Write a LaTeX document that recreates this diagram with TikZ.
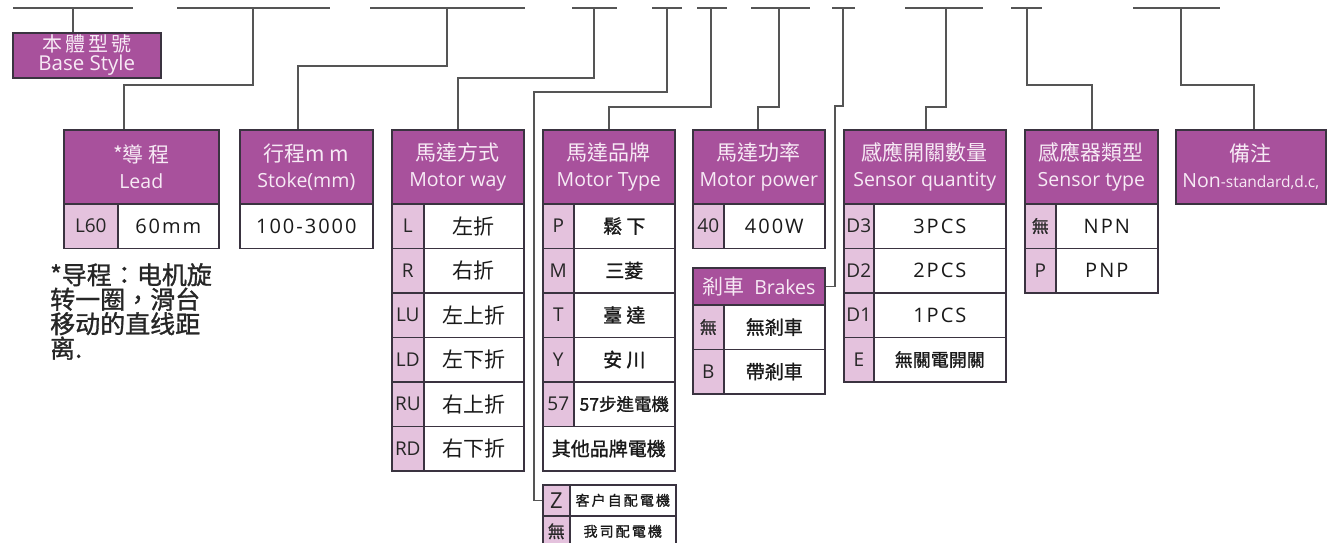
\documentclass[tikz,border=0pt]{standalone}
\usepackage{fontspec}
\setmainfont{Open Sans}
\newfontfamily\cjk{Noto Sans CJK TC}
\newfontfamily\cjkm[FakeBold=1.2]{Noto Sans CJK TC}
\newfontfamily\cjksp[LetterSpace=15,FakeBold=1.2]{Noto Sans CJK TC}
\newfontfamily\cjkbase[LetterSpace=15]{Noto Sans CJK TC}
\newfontfamily\spaced[LetterSpace=10]{Open Sans}
\definecolor{hdrfill}{HTML}{A8519C}
\definecolor{codefill}{HTML}{E4C2DD}
\definecolor{hdrtext}{HTML}{F7EAF5}
\definecolor{boxline}{HTML}{3A3340}
\definecolor{connline}{HTML}{555555}
\newcommand\hcjk[1]{{\cjk\fontsize{21}{26}\selectfont #1}}
\begin{document}
\begin{tikzpicture}[x=1pt, y=-1pt,
    hdr/.style={draw=boxline, fill=hdrfill, text=hdrtext, line width=1.6pt, anchor=north west,
      inner sep=0pt, align=center, minimum height=74pt, font=\fontsize{19.5}{26}\selectfont},
    codecell/.style={draw=boxline, fill=codefill, line width=1.6pt, anchor=north west, inner sep=0pt,
      minimum height=44.5pt, text=black!85, font=\fontsize{19}{22}\selectfont},
    valcell/.style={draw=boxline, fill=white, line width=1.6pt, anchor=north west, inner sep=0pt,
      minimum height=44.5pt, text=black!90, font=\cjk\fontsize{20}{22}\selectfont},
    latval/.style={font=\spaced\fontsize{20}{22}\selectfont},
    conn/.style={draw=connline, line width=1.3pt}]
    \useasboundingbox (0,0) rectangle (1327,542);

    % code positions along the top
    \foreach \a/\b/\m [count=\i] in {13/133/73, 177/330/253, 370/525/447, 572/617/594, 652/682/667,
        697/727/711, 751/810/779, 832/855/843, 905/983/946, 1011/1042/1027, 1133/1220/1181} {
      \draw[conn] (\a,8) -- (\b,8);
      \coordinate (s\i) at (\m,8);
    }

    % base style
    \node[hdr, minimum width=148pt, minimum height=45pt, font=\fontsize{20.5}{19.5}\selectfont] (base) at (12,32)
      {{\cjkbase\fontsize{20}{19.5}\selectfont 本體型號}\\Base Style};

    % lead
    \node[hdr, minimum width=155pt] (lead) at (63,129) {\hcjk{*導 程}\\Lead};
    \node[codecell, minimum width=54pt] (lead-c0) at (63,203) {L60};
    \node[valcell, latval, minimum width=101pt] (lead-v0) at (117,203) {60mm};
    \node[anchor=north west, align=left, inner sep=0pt, text=black!85, font=\cjkm\fontsize{25}{24.5}\selectfont] (leadnote)
      at (50,263) {*导程：电机旋\\转一圈，滑台\\移动的直线距\\离.};

    % stroke
    \node[hdr, minimum width=133pt] (stroke) at (239,129) {\hcjk{行程m m}\\Stoke(mm)};
    \node[valcell, latval, minimum width=133pt] (stroke-v0) at (239,203) {100-3000};

    % motor way
    \node[hdr, minimum width=132pt] (way) at (391,129) {\hcjk{馬達方式}\\Motor way};
    \foreach \c/\v [count=\i from 0] in {L/左折, R/右折, LU/左上折, LD/左下折, RU/右上折, RD/右下折} {
      \node[codecell, minimum width=32pt] (way-c\i) at (391,203+44.5*\i) {\c};
      \node[valcell, minimum width=100pt, font=\cjk\fontsize{21}{22}\selectfont] (way-v\i) at (423,203+44.5*\i) {\v};
    }

    % motor type
    \node[hdr, minimum width=132pt] (type) at (542,129) {\hcjk{馬達品牌}\\Motor Type};
    \foreach \c/\v [count=\i from 0] in {P/鬆 下, M/三菱, T/臺 達, Y/安 川} {
      \node[codecell, minimum width=31pt] (type-c\i) at (542,203+44.5*\i) {\c};
      \node[valcell, minimum width=101pt, font=\cjkm\fontsize{19}{22}\selectfont] (type-v\i) at (573,203+44.5*\i) {\v};
    }
    \node[codecell, minimum width=31pt] (type-c4) at (542,381) {57};
    \node[valcell, minimum width=101pt, font=\cjkm\fontsize{17.5}{22}\selectfont] (type-v4) at (573,381) {57步進電機};
    \node[valcell, minimum width=132pt, font=\cjkm\fontsize{19}{22}\selectfont] (type-other) at (542,425.5) {其他品牌電機};

    % motor supply
    \node[codecell, minimum width=27pt, minimum height=31pt, font=\fontsize{22}{24}\selectfont] (z-c0) at (542,484) {Z};
    \node[valcell, minimum width=106pt, minimum height=31pt, font=\cjksp\fontsize{14}{16}\selectfont] (z-v0) at (569,484) {客户自配電機};
    \node[codecell, minimum width=27pt, minimum height=31pt, font=\cjkm\fontsize{17}{20}\selectfont] (z-c1) at (542,515) {無};
    \node[valcell, minimum width=106pt, minimum height=31pt, font=\cjksp\fontsize{14}{16}\selectfont] (z-v1) at (569,515) {我司配電機};

    % motor power
    \node[hdr, minimum width=132pt] (power) at (692,129) {\hcjk{馬達功率}\\Motor power};
    \node[codecell, minimum width=31pt] (power-c0) at (692,203) {40};
    \node[valcell, latval, minimum width=101pt] (power-v0) at (723,203) {400W};

    % brakes
    \node[hdr, minimum width=132pt, minimum height=37pt] (brake) at (692,267) {\hcjk{剎車}\ \ Brakes};
    \node[codecell, minimum width=31pt, font=\cjkm\fontsize{17}{20}\selectfont] (brake-c0) at (692,304) {無};
    \node[valcell, minimum width=101pt, font=\cjkm\fontsize{19}{22}\selectfont] (brake-v0) at (723,304) {無剎車};
    \node[codecell, minimum width=31pt] (brake-c1) at (692,348.5) {B};
    \node[valcell, minimum width=101pt, font=\cjkm\fontsize{19}{22}\selectfont] (brake-v1) at (723,348.5) {帶剎車};

    % sensor quantity
    \node[hdr, minimum width=162pt] (qty) at (843,129) {\hcjk{感應開關數量}\\Sensor quantity};
    \foreach \c/\v [count=\i from 0] in {D3/3PCS, D2/2PCS, D1/1PCS} {
      \node[codecell, minimum width=30pt] (qty-c\i) at (843,203+44.5*\i) {\c};
      \node[valcell, latval, minimum width=132pt] (qty-v\i) at (873,203+44.5*\i) {\v};
    }
    \node[codecell, minimum width=30pt] (qty-c3) at (843,336.5) {E};
    \node[valcell, minimum width=132pt, font=\cjkm\fontsize{18}{22}\selectfont] (qty-v3) at (873,336.5) {無關電開關};

    % sensor type
    \node[hdr, minimum width=133pt] (stype) at (1024,129) {\hcjk{感應器類型}\\Sensor type};
    \node[codecell, minimum width=31pt, font=\cjkm\fontsize{17}{20}\selectfont] (stype-c0) at (1024,203) {無};
    \node[valcell, latval, minimum width=102pt] (stype-v0) at (1055,203) {NPN};
    \node[codecell, minimum width=31pt] (stype-c1) at (1024,247.5) {P};
    \node[valcell, latval, minimum width=102pt] (stype-v1) at (1055,247.5) {PNP};

    % remark
    \node[hdr, minimum width=150pt] (note) at (1175,129)
      {\hcjk{備注}\\Non{\fontsize{15.5}{26}\selectfont -standard,d.c,}};

    % connectors
    \draw[conn] (s1) -- (s1 |- base.north);
    \draw[conn] (s2) |- (124,85) -- (124,85 |- lead.north);
    \draw[conn] (s3) |- (298,66) -- (298,66 |- stroke.north);
    \draw[conn] (s4) |- (458,78) -- (458,78 |- way.north);
    \draw[conn] (s5) |- (534,92) |- (z-c0.west);
    \draw[conn] (s6) |- (609,107) -- (609,107 |- type.north);
    \draw[conn] (s7) |- (758,107) -- (758,107 |- power.north);
    \draw[conn] (s8) |- (835,106) |- (brake.east);
    \draw[conn] (s9) |- (926,107) -- (926,107 |- qty.north);
    \draw[conn] (s10) |- (1092,85) -- (1092,85 |- stype.north);
    \draw[conn] (s11) |- (1254,85) -- (1254,85 |- note.north);
\end{tikzpicture}
\end{document}
